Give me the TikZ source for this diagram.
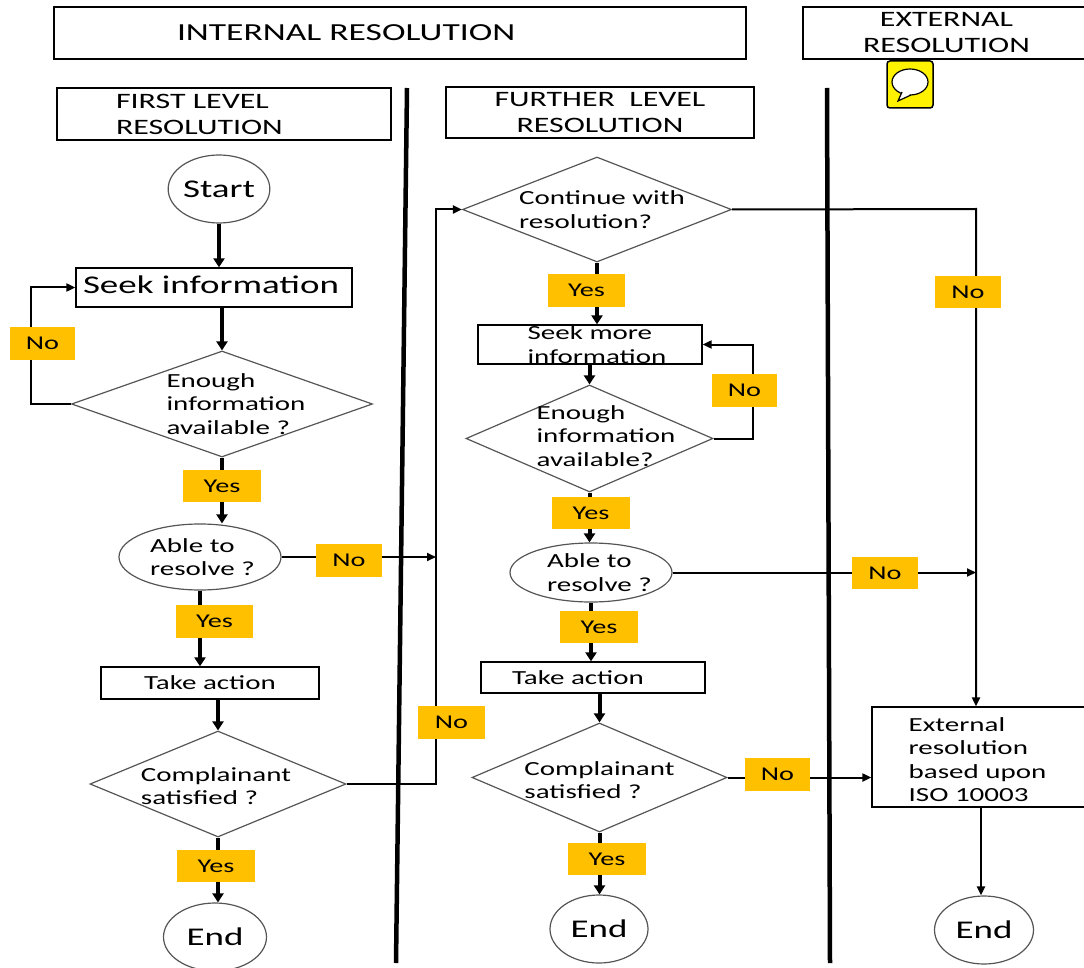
\documentclass[tikz,border=0pt]{standalone}
\usepackage{fontspec}
\setmainfont{Carlito}[FakeStretch=1.45]
\usepackage{xcolor}
\usepackage{tikz}
\usetikzlibrary{arrows.meta,shapes.geometric}
\definecolor{tagyellow}{HTML}{FFC000}
\definecolor{shapegray}{HTML}{555555}
\newcommand{\txtfont}{\fontsize{20pt}{23.5pt}\selectfont}
\newcommand{\hdrfont}{\fontsize{22pt}{26pt}\selectfont}
\newcommand{\titlefont}{\fontsize{24.5pt}{29pt}\selectfont}
\newcommand{\bigfont}{\fontsize{25.5pt}{30pt}\selectfont}
\newcommand{\tagfont}{\fontsize{19.5pt}{23pt}\selectfont}
\tikzset{
  block/.style={rectangle, draw, line width=1.3pt, inner sep=0pt},
  decision/.style={diamond, draw=shapegray, line width=1.2pt, inner sep=0pt},
  terminal/.style={ellipse, draw=shapegray, line width=1.2pt, inner sep=0pt},
  txt/.style={font=\txtfont, align=left, inner sep=0pt},
  tag/.style={rectangle, fill=tagyellow, minimum width=78pt, minimum height=32pt, inner sep=0pt, font=\tagfont},
  line/.style={-{Triangle[length=9pt,width=11pt]}, line width=4pt},
  thinline/.style={-{Triangle[length=9pt,width=8pt]}, line width=2pt},
  lane/.style={line width=4.5pt}
}
\begin{document}
\begin{tikzpicture}[x=1pt, y=-1pt]
  \useasboundingbox (0,0) rectangle (1084,968);
  % headings
  \node[block, minimum width=692pt, minimum height=52pt, text width=446pt, inner xsep=123pt, align=left, font=\titlefont] (internal) at (400,33) {INTERNAL RESOLUTION};
  \node[block, minimum width=287pt, minimum height=52pt, align=center, font=\hdrfont] (external) at (946.5,33) {EXTERNAL\\RESOLUTION};
  \node[block, minimum width=334pt, minimum height=52pt, text width=216pt, inner xsep=59pt, align=left, font=\hdrfont] (first) at (224,114) {FIRST LEVEL\\RESOLUTION};
  \node[block, minimum width=308pt, minimum height=51pt, align=center, font=\hdrfont] (further) at (600,112.5) {FURTHER\ \ LEVEL\\RESOLUTION};
  % comment icon
  \node[draw, line width=1.5pt, fill=yellow, rounded corners=3pt, minimum width=46pt, minimum height=47pt] (note) at (910,84.5) {};
  \draw[line width=1.2pt, fill=white] (910,82) ellipse [x radius=18pt, y radius=13pt];
  \draw[line width=1.2pt, fill=white] (902,92) -- (898,101) -- (911,95);
  % lanes
  \coordinate (lane1a) at (407,88);
  \coordinate (lane1b) at (396,963);
  \coordinate (lane2a) at (827,88);
  \coordinate (lane2b) at (830,963);
  \draw[lane] (lane1a) -- (lane1b);
  \draw[lane] (lane2a) -- (lane2b);
  % first level
  \node[terminal, minimum width=98pt, minimum height=68pt, font=\bigfont] (start) at (219,189) {Start};
  \node[block, minimum width=276pt, minimum height=39pt, label={[font=\bigfont, inner sep=0pt, xshift=-3pt, yshift=3pt]center:Seek information}] (seek1) at (214,287.5) {};
  \node[decision, minimum width=301pt, minimum height=106pt, label={[txt, xshift=14pt]center:{Enough\\information\\available ?}}] (enough1) at (222,404) {};
  \node[terminal, minimum width=162pt, minimum height=66pt, label={[txt, xshift=2.5pt]center:{Able to\\resolve ?}}] (able1) at (200,557) {};
  \node[block, minimum width=218pt, minimum height=32pt, font=\txtfont] (act1) at (210,683) {Take action};
  \node[decision, minimum width=256pt, minimum height=106pt, label={[txt, xshift=-2pt, yshift=-2pt]center:{Complainant\\satisfied ?}}] (sat1) at (218,784) {};
  \node[terminal, minimum width=103pt, minimum height=68pt, font=\bigfont] (end1) at (215,937) {End};
  % further level
  \node[decision, minimum width=269pt, minimum height=105pt, label={[txt, xshift=5pt]center:{Continue with\\resolution?}}] (cont) at (597,209.5) {};
  \node[block, minimum width=224pt, minimum height=39pt, label={[txt, xshift=7pt]center:{Seek more\\information}}] (seek2) at (590,344.5) {};
  \node[decision, minimum width=247pt, minimum height=107pt, label={[txt, xshift=16.5pt, yshift=2.5pt]center:{Enough\\information\\available?}}] (enough2) at (589.5,438.5) {};
  \node[terminal, minimum width=162pt, minimum height=59pt, label={[txt, xshift=8.5pt]center:{Able to\\resolve ?}}] (able2) at (591,572.5) {};
  \node[block, minimum width=224pt, minimum height=31pt, label={[txt, xshift=-15pt]center:Take action}] (act2) at (593,677.5) {};
  \node[decision, minimum width=255pt, minimum height=109pt, label={[txt, yshift=-2.5pt]center:{Complainant\\satisfied ?}}] (sat2) at (599.5,777.5) {};
  \node[terminal, minimum width=98pt, minimum height=68pt, font=\bigfont] (end2) at (599,929) {End};
  % external
  \node[block, minimum width=218pt, minimum height=100pt, label={[txt, xshift=-3.5pt, yshift=-2.5pt]center:{External\\resolution\\based upon\\ISO 10003}}] (ext) at (981,757) {};
  \node[terminal, minimum width=99pt, minimum height=68pt, font=\bigfont] (end3) at (984,930) {End};
  \coordinate (bend1) at (436,784);
  \coordinate (bend2) at (976,209);
  % connectors
  \draw[line] (start) -- (start |- seek1.north);
  \draw[line] (enough1.north |- seek1.south) -- (enough1.north);
  \draw[thinline] (enough1.west) -- ++(-40,0) |- (seek1.west);
  \draw[line] (enough1.south) -- (enough1.south |- able1.north);
  \draw[thinline] (able1.east) -- (able1.east -| bend1);
  \draw[line] (able1.south) -- (able1.south |- act1.north);
  \draw[line] (sat1.north |- act1.south) -- (sat1.north);
  \draw[line] (sat1.south) -- (sat1.south |- end1.north);
  \draw[thinline] (sat1.east) -- (bend1) |- (cont.west);
  \draw[line] (cont.south) -- (cont.south |- seek2.north);
  \draw[line] (enough2.north |- seek2.south) -- (enough2.north);
  \draw[thinline] (enough2.east) -- ++(39,0) |- (seek2.east);
  \draw[line] (enough2.south) -- (enough2.south |- able2.north);
  \draw[thinline] (able2.east) -- (able2.east -| bend2);
  \draw[line] (able2.south) -- (able2.south |- act2.north);
  \draw[line] (sat2.north |- act2.south) -- (sat2.north);
  \draw[line] (sat2.south) -- (sat2.south |- end2.north);
  \draw[thinline] (sat2.east) -- (sat2.east -| ext.west);
  \draw[thinline] (cont.east) -- (bend2) -- (bend2 |- ext.north);
  \draw[thinline, line width=2.5pt] (ext.south) -- (ext.south |- end3.north);
  % yes / no tags
  \node[tag, minimum width=65pt, minimum height=33pt] (no1) at (42.5,343.5) {No};
  \node[tag] (yes1) at (222,486) {Yes};
  \node[tag, minimum width=66pt, minimum height=33pt] (no2) at (349,560.5) {No};
  \node[tag, minimum width=77pt, minimum height=33pt] (yes2) at (214.5,621.5) {Yes};
  \node[tag, minimum width=67pt, minimum height=33pt] (no3) at (451.5,722.5) {No};
  \node[tag] (yes3) at (216,866) {Yes};
  \node[tag, minimum width=77pt, minimum height=33pt] (yes4) at (586.5,290.5) {Yes};
  \node[tag, minimum width=65pt, minimum height=33pt] (no4) at (744.5,390.5) {No};
  \node[tag] (yes5) at (591,513) {Yes};
  \node[tag, minimum width=66pt] (no5) at (885,573) {No};
  \node[tag] (yes6) at (599,627) {Yes};
  \node[tag, minimum width=65pt, minimum height=33pt] (no6) at (777.5,774.5) {No};
  \node[tag] (yes7) at (607,859) {Yes};
  \node[tag, minimum width=66pt] (no7) at (968,292) {No};
\end{tikzpicture}
\end{document}
